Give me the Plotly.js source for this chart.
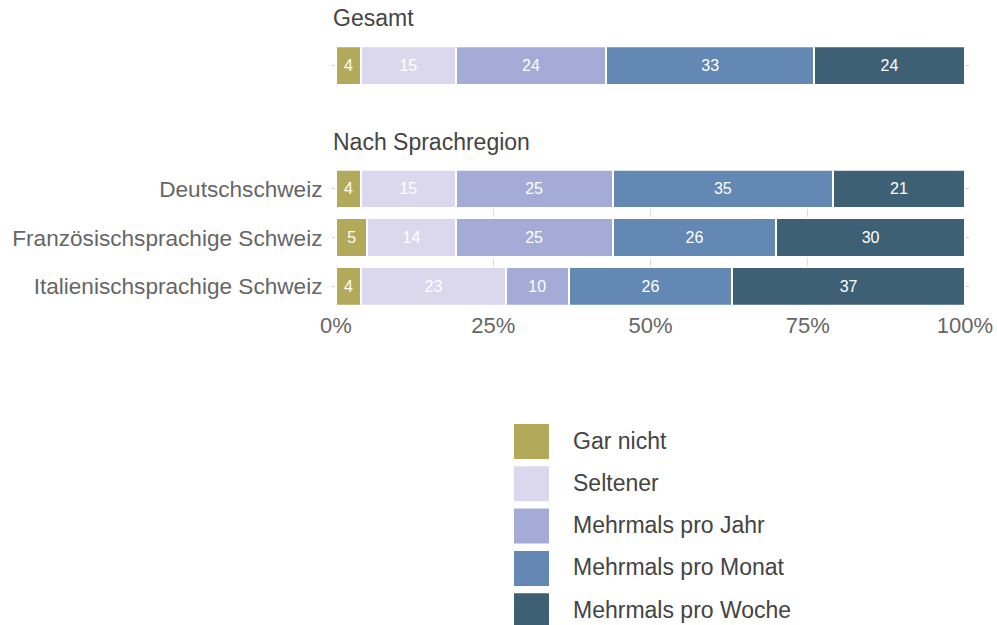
<!DOCTYPE html>
<html>
<head>
<meta charset="utf-8">
<script src="https://cdn.plot.ly/plotly-3.0.1.min.js"></script>
<style>html,body{margin:0;padding:0;background:#fff;}#chart{width:997px;height:625px;}</style>
</head>
<body>
<div id="chart"></div>
<script>
// ---- data ----
const categories = ['Gar nicht', 'Seltener', 'Mehrmals pro Jahr', 'Mehrmals pro Monat', 'Mehrmals pro Woche'];
const colors = ['#b2aa5a', '#dbd8ee', '#a3abd6', '#6288b3', '#3e6075'];
const gesamtLabel = ['Gesamt'];
const gesamtValues = [4, 15, 24, 33, 24];
const regions = ['Deutschschweiz', 'Französischsprachige Schweiz', 'Italienischsprachige Schweiz'];
const deutschValues = [4, 15, 25, 35, 21];
const franzValues = [5, 14, 25, 26, 30];
const italValues = [4, 23, 10, 26, 37];
const xTickVals = [0, 25, 50, 75, 100];
const panelTitles = ['Gesamt', 'Nach Sprachregion'];

// ---- layout helpers (pixel -> paper) ----
const W = 997, H = 625, ML = 336, MR = 32;
const PW = W - ML - MR;
const px = x => (x - ML) / PW;
const py = y => 1 - y / H;

const FONT = '"Liberation Sans", Arial, Helvetica, sans-serif';
const traces = [];
categories.forEach((cat, i) => {
  const common = {
    type: 'bar', orientation: 'h', name: cat,
    marker: {color: colors[i], line: {color: '#ffffff', width: 2}},
    textposition: 'inside', insidetextanchor: 'middle', textangle: 0,
    constraintext: 'none',
    textfont: {color: '#ffffff', size: 16, family: FONT},
    hoverinfo: 'skip', showlegend: false
  };
  traces.push(Object.assign({}, common, {
    x: [gesamtValues[i]], y: gesamtLabel,
    text: [String(gesamtValues[i])], xaxis: 'x', yaxis: 'y'
  }));
  const vals = [deutschValues[i], franzValues[i], italValues[i]];
  traces.push(Object.assign({}, common, {
    x: vals, y: regions, text: vals.map(String), xaxis: 'x2', yaxis: 'y2'
  }));
});

const unitPx = 48.8;
const half = 0.376;
const shapes = [];
const annotations = [];
// legend built from categories/colors
categories.forEach((cat, i) => {
  const cy = 441.5 + i * 42.3;
  shapes.push({type: 'rect', xref: 'paper', yref: 'paper',
    x0: px(514), x1: px(549), y0: py(cy + 17.5), y1: py(cy - 17.5),
    fillcolor: colors[i], line: {width: 0}});
  annotations.push({xref: 'paper', yref: 'paper', x: px(571), y: py(cy - 1),
    xanchor: 'left', yanchor: 'middle', showarrow: false, text: cat,
    font: {size: 23, color: '#444444', family: FONT}});
});
annotations.push({xref: 'paper', yref: 'paper', x: px(331), y: py(18),
  xanchor: 'left', yanchor: 'middle', showarrow: false, text: panelTitles[0],
  font: {size: 23, color: '#444444', family: FONT}});
annotations.push({xref: 'paper', yref: 'paper', x: px(331), y: py(142),
  xanchor: 'left', yanchor: 'middle', showarrow: false, text: panelTitles[1],
  font: {size: 23, color: '#444444', family: FONT}});

const yTop2 = 170.5, yBot2 = yTop2 + (2 + 2 * half) * unitPx;
const yTop1 = 47.3, yBot1 = yTop1 + 2 * half * unitPx;

const layout = {
  width: W, height: H,
  margin: {l: ML, r: MR, t: 0, b: 0, pad: 0},
  paper_bgcolor: '#ffffff', plot_bgcolor: '#ffffff',
  barmode: 'stack', bargap: 0.207,
  showlegend: false,
  font: {family: FONT, color: '#666666'},
  xaxis: {domain: [0, 1], range: [0, 100], anchor: 'y', showticklabels: false,
    showgrid: false, zeroline: false, ticks: '', fixedrange: true},
  yaxis: {domain: [py(yBot1), py(yTop1)], range: [half, -half], anchor: 'x',
    type: 'category', showticklabels: false, showgrid: false, zeroline: false,
    ticks: 'outside', ticklen: 3, tickcolor: '#cccccc', mirror: 'ticks', showline: false},
  xaxis2: {domain: [0, 1], range: [0, 100], anchor: 'y2', tickvals: xTickVals,
    ticktext: xTickVals.map(v => v + '%'), showgrid: true, gridcolor: '#dddddd',
    gridwidth: 1, zeroline: false, ticks: '', ticklabelstandoff: 5,
    tickfont: {size: 22, color: '#666666'}},
  yaxis2: {domain: [py(yBot2), py(yTop2)], range: [2 + half, -half], anchor: 'x2',
    type: 'category', showgrid: false, zeroline: false,
    ticks: 'outside', ticklen: 3, tickcolor: '#cccccc', mirror: 'ticks', showline: false,
    ticklabelstandoff: 5,
    tickfont: {size: 22.6, color: '#666666'}},
  shapes: shapes,
  annotations: annotations
};

Plotly.newPlot('chart', traces, layout, {displayModeBar: false, staticPlot: true});
</script>
</body>
</html>
